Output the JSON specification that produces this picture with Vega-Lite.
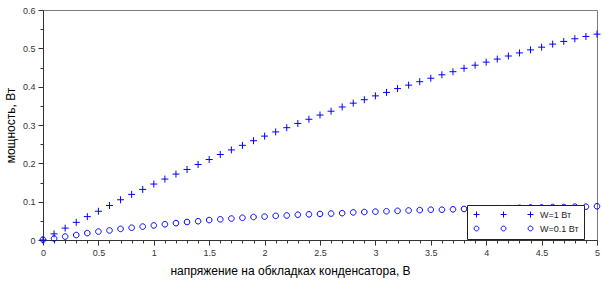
{
  "$schema": "https://vega.github.io/schema/vega-lite/v6.json",
  "width": 554,
  "height": 230,
  "autosize": {"type": "none"},
  "padding": {"left": 43, "top": 10, "right": 5, "bottom": 43},
  "background": "white",
  "config": {"view": {"stroke": "#7a7a7a", "strokeWidth": 1}, "font": "Liberation Sans"},
  "data": {"values": [
    {"u":0.0,"P":0.000,"s":"W=1 Вт"},{"u":0.1,"P":0.016,"s":"W=1 Вт"},{"u":0.2,"P":0.031,"s":"W=1 Вт"},{"u":0.3,"P":0.046,"s":"W=1 Вт"},{"u":0.4,"P":0.061,"s":"W=1 Вт"},
    {"u":0.5,"P":0.075,"s":"W=1 Вт"},{"u":0.6,"P":0.090,"s":"W=1 Вт"},{"u":0.7,"P":0.105,"s":"W=1 Вт"},{"u":0.8,"P":0.119,"s":"W=1 Вт"},{"u":0.9,"P":0.132,"s":"W=1 Вт"},
    {"u":1.0,"P":0.146,"s":"W=1 Вт"},{"u":1.1,"P":0.159,"s":"W=1 Вт"},{"u":1.2,"P":0.172,"s":"W=1 Вт"},{"u":1.3,"P":0.184,"s":"W=1 Вт"},{"u":1.4,"P":0.197,"s":"W=1 Вт"},
    {"u":1.5,"P":0.210,"s":"W=1 Вт"},{"u":1.6,"P":0.223,"s":"W=1 Вт"},{"u":1.7,"P":0.235,"s":"W=1 Вт"},{"u":1.8,"P":0.247,"s":"W=1 Вт"},{"u":1.9,"P":0.259,"s":"W=1 Вт"},
    {"u":2.0,"P":0.271,"s":"W=1 Вт"},{"u":2.1,"P":0.282,"s":"W=1 Вт"},{"u":2.2,"P":0.293,"s":"W=1 Вт"},{"u":2.3,"P":0.304,"s":"W=1 Вт"},{"u":2.4,"P":0.315,"s":"W=1 Вт"},
    {"u":2.5,"P":0.326,"s":"W=1 Вт"},{"u":2.6,"P":0.336,"s":"W=1 Вт"},{"u":2.7,"P":0.347,"s":"W=1 Вт"},{"u":2.8,"P":0.357,"s":"W=1 Вт"},{"u":2.9,"P":0.366,"s":"W=1 Вт"},
    {"u":3.0,"P":0.376,"s":"W=1 Вт"},{"u":3.1,"P":0.385,"s":"W=1 Вт"},{"u":3.2,"P":0.395,"s":"W=1 Вт"},{"u":3.3,"P":0.404,"s":"W=1 Вт"},{"u":3.4,"P":0.413,"s":"W=1 Вт"},
    {"u":3.5,"P":0.422,"s":"W=1 Вт"},{"u":3.6,"P":0.431,"s":"W=1 Вт"},{"u":3.7,"P":0.439,"s":"W=1 Вт"},{"u":3.8,"P":0.448,"s":"W=1 Вт"},{"u":3.9,"P":0.456,"s":"W=1 Вт"},
    {"u":4.0,"P":0.464,"s":"W=1 Вт"},{"u":4.1,"P":0.472,"s":"W=1 Вт"},{"u":4.2,"P":0.480,"s":"W=1 Вт"},{"u":4.3,"P":0.488,"s":"W=1 Вт"},{"u":4.4,"P":0.496,"s":"W=1 Вт"},
    {"u":4.5,"P":0.503,"s":"W=1 Вт"},{"u":4.6,"P":0.511,"s":"W=1 Вт"},{"u":4.7,"P":0.518,"s":"W=1 Вт"},{"u":4.8,"P":0.525,"s":"W=1 Вт"},{"u":4.9,"P":0.531,"s":"W=1 Вт"},
    {"u":5.0,"P":0.537,"s":"W=1 Вт"},
    {"u":0.0,"P":0.001,"s":"W=0.1 Вт"},{"u":0.1,"P":0.004,"s":"W=0.1 Вт"},{"u":0.2,"P":0.009,"s":"W=0.1 Вт"},{"u":0.3,"P":0.013,"s":"W=0.1 Вт"},{"u":0.4,"P":0.018,"s":"W=0.1 Вт"},
    {"u":0.5,"P":0.022,"s":"W=0.1 Вт"},{"u":0.6,"P":0.025,"s":"W=0.1 Вт"},{"u":0.7,"P":0.029,"s":"W=0.1 Вт"},{"u":0.8,"P":0.032,"s":"W=0.1 Вт"},{"u":0.9,"P":0.035,"s":"W=0.1 Вт"},
    {"u":1.0,"P":0.038,"s":"W=0.1 Вт"},{"u":1.1,"P":0.041,"s":"W=0.1 Вт"},{"u":1.2,"P":0.044,"s":"W=0.1 Вт"},{"u":1.3,"P":0.047,"s":"W=0.1 Вт"},{"u":1.4,"P":0.049,"s":"W=0.1 Вт"},
    {"u":1.5,"P":0.052,"s":"W=0.1 Вт"},{"u":1.6,"P":0.054,"s":"W=0.1 Вт"},{"u":1.7,"P":0.056,"s":"W=0.1 Вт"},{"u":1.8,"P":0.058,"s":"W=0.1 Вт"},{"u":1.9,"P":0.060,"s":"W=0.1 Вт"},
    {"u":2.0,"P":0.061,"s":"W=0.1 Вт"},{"u":2.1,"P":0.063,"s":"W=0.1 Вт"},{"u":2.2,"P":0.064,"s":"W=0.1 Вт"},{"u":2.3,"P":0.066,"s":"W=0.1 Вт"},{"u":2.4,"P":0.067,"s":"W=0.1 Вт"},
    {"u":2.5,"P":0.068,"s":"W=0.1 Вт"},{"u":2.6,"P":0.069,"s":"W=0.1 Вт"},{"u":2.7,"P":0.070,"s":"W=0.1 Вт"},{"u":2.8,"P":0.072,"s":"W=0.1 Вт"},{"u":2.9,"P":0.073,"s":"W=0.1 Вт"},
    {"u":3.0,"P":0.074,"s":"W=0.1 Вт"},{"u":3.1,"P":0.075,"s":"W=0.1 Вт"},{"u":3.2,"P":0.076,"s":"W=0.1 Вт"},{"u":3.3,"P":0.077,"s":"W=0.1 Вт"},{"u":3.4,"P":0.078,"s":"W=0.1 Вт"},
    {"u":3.5,"P":0.079,"s":"W=0.1 Вт"},{"u":3.6,"P":0.079,"s":"W=0.1 Вт"},{"u":3.7,"P":0.080,"s":"W=0.1 Вт"},{"u":3.8,"P":0.081,"s":"W=0.1 Вт"},{"u":3.9,"P":0.081,"s":"W=0.1 Вт"},
    {"u":4.0,"P":0.082,"s":"W=0.1 Вт"},{"u":4.1,"P":0.083,"s":"W=0.1 Вт"},{"u":4.2,"P":0.083,"s":"W=0.1 Вт"},{"u":4.3,"P":0.084,"s":"W=0.1 Вт"},{"u":4.4,"P":0.085,"s":"W=0.1 Вт"},
    {"u":4.5,"P":0.085,"s":"W=0.1 Вт"},{"u":4.6,"P":0.086,"s":"W=0.1 Вт"},{"u":4.7,"P":0.086,"s":"W=0.1 Вт"},{"u":4.8,"P":0.087,"s":"W=0.1 Вт"},{"u":4.9,"P":0.087,"s":"W=0.1 Вт"},
    {"u":5.0,"P":0.088,"s":"W=0.1 Вт"}
  ]},
  "layer": [
    {
      "mark": {"type": "point", "filled": false, "color": "#0000ff", "opacity": 1, "strokeWidth": 1, "size": 49, "clip": false},
      "encoding": {
        "x": {"field": "u", "type": "quantitative", "scale": {"domain": [0, 5], "nice": false, "zero": false},
          "axis": {"orient": "bottom", "values": [0,0.5,1,1.5,2,2.5,3,3.5,4,4.5,5], "format": "~g", "grid": false,
            "tickSize": 5, "tickColor": "#333333", "domainColor": "#333333", "labelColor": "#333333", "labelFontSize": 9, "labelPadding": 3, "labelFlush": false,
            "title": "напряжение на обкладках конденсатора, В", "titleFontSize": 12, "titleFontWeight": "normal", "titleColor": "#000000", "titlePadding": 8, "titleX": 247}},
        "y": {"field": "P", "type": "quantitative", "scale": {"domain": [0, 0.6], "nice": false},
          "axis": {"orient": "left", "values": [0,0.1,0.2,0.3,0.4,0.5,0.6], "format": "~g", "grid": false,
            "tickSize": 5, "tickColor": "#333333", "domainColor": "#333333", "labelColor": "#333333", "labelFontSize": 9, "labelPadding": 3, "labelFlush": false,
            "title": "мощность, Вт", "titleFontSize": 12, "titleFontWeight": "normal", "titleColor": "#000000", "titlePadding": 5}},
        "shape": {"field": "s", "type": "nominal", "legend": null,
          "scale": {"domain": ["W=1 Вт", "W=0.1 Вт"], "range": ["M-1,0H1M0,-1V1", "M0.8,0A0.8,0.8,0,1,1,-0.8,0A0.8,0.8,0,1,1,0.8,0"]}}
      }
    },
    {
      "mark": {"type": "point", "filled": false, "color": "#0000ff", "opacity": 0, "strokeWidth": 1, "size": 36},
      "encoding": {
        "x": {"field": "u", "type": "quantitative",
          "axis": {"orient": "bottom", "values": [0.1,0.2,0.3,0.4,0.6,0.7,0.8,0.9,1.1,1.2,1.3,1.4,1.6,1.7,1.8,1.9,2.1,2.2,2.3,2.4,2.6,2.7,2.8,2.9,3.1,3.2,3.3,3.4,3.6,3.7,3.8,3.9,4.1,4.2,4.3,4.4,4.6,4.7,4.8,4.9],
            "labels": false, "domain": false, "grid": false, "tickSize": 3, "tickColor": "#333333", "title": null}},
        "y": {"field": "P", "type": "quantitative",
          "axis": {"orient": "left", "values": [0.05,0.15,0.25,0.35,0.45,0.55],
            "labels": false, "domain": false, "grid": false, "tickSize": 3, "tickColor": "#333333", "title": null}},
        "shape": {"field": "s", "type": "nominal",
          "scale": {"domain": ["W=1 Вт", "W=0.1 Вт"], "range": [
            "M-1,0H1M0,-1V1M8,0H10M9,-1V1M17,0H19M18,-1V1",
            "M0.8,0A0.8,0.8,0,1,1,-0.8,0A0.8,0.8,0,1,1,0.8,0M9.8,0A0.8,0.8,0,1,1,8.2,0A0.8,0.8,0,1,1,9.8,0M18.8,0A0.8,0.8,0,1,1,17.2,0A0.8,0.8,0,1,1,18.8,0"]},
          "legend": {"title": null, "orient": "none", "legendX": 424, "legendY": 195, "padding": 5, "strokeColor": "#222222", "fillColor": "white",
            "labelFontSize": 9, "labelColor": "#222222", "labelOffset": 59, "rowPadding": 4, "symbolSize": 36, "symbolOpacity": 1,
            "symbolStrokeColor": "#0000ff", "symbolStrokeWidth": 1, "symbolFillColor": "transparent"}}
      }
    }
  ],
  "resolve": {"axis": {"x": "independent", "y": "independent"}, "scale": {"shape": "independent"}}
}
